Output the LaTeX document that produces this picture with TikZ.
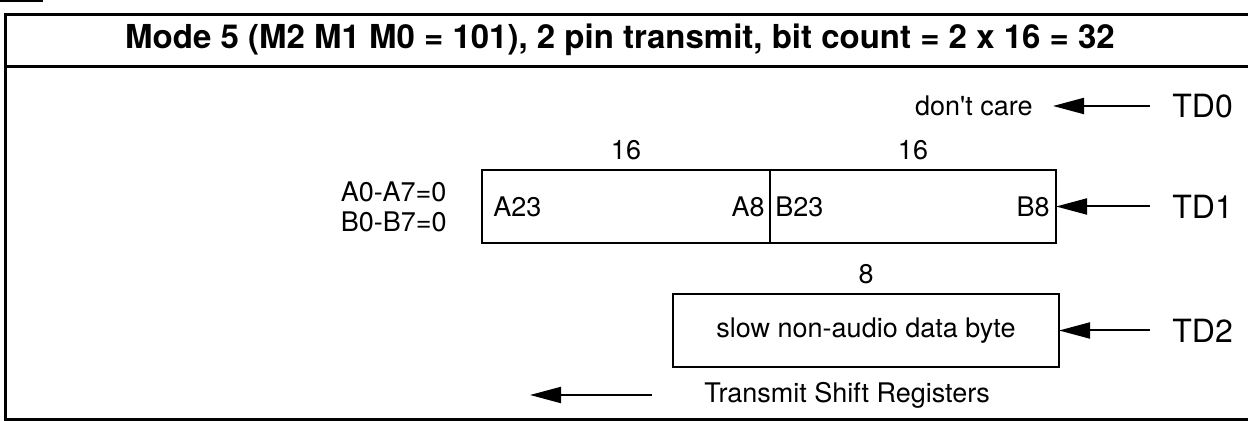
\documentclass[tikz,border=0pt]{standalone}
\usepackage{fontspec}
\setmainfont{TeX Gyre Heros}
\usetikzlibrary{positioning,arrows.meta}

\begin{document}
\begin{tikzpicture}[x=0.5pt,y=-0.5pt,>={Triangle[length=15.5pt,width=8pt]},
      reg/.style={draw,line width=1.2pt,minimum height=36.5pt,inner sep=0pt,outer sep=0pt},
      txt/.style={inner sep=0pt,font=\fontsize{13.5}{15}\selectfont},
      pin/.style={inner sep=0pt,inner xsep=11pt,font=\fontsize{16}{19}\selectfont},
      ar/.style={->,line width=1pt}]
    \useasboundingbox (0,0) rectangle (1248,421);
    \clip (0,0) rectangle (1248,421);
    % frame and title
    \draw[line width=1.5pt] (0,0.8) -- (43,0.8);
    \draw[line width=1.5pt] (1270,14.5) -- (5,14.5) -- (5,419.5) -- (1270,419.5);
    \draw[line width=1.5pt] (5,67) -- (1270,67);
    \node[inner sep=0pt,font=\bfseries\fontsize{16.5}{20}\selectfont] (title) at (620,40)
      {Mode 5 (M2 M1 M0 = 101), 2 pin transmit, bit count = 2 x 16 = 32};
    % shift registers
    \node[reg,minimum width=144pt] (regA) at (626,206.5) {};
    \node[reg,minimum width=143pt,right=0pt of regA] (regB) {};
    \node[reg,minimum width=193pt] (regC) at (866,330.5) {};
    \node[txt,anchor=west] (a23) at ([xshift=5.5pt]regA.west) {A23};
    \node[txt,anchor=east] (a8) at ([xshift=-2.5pt]regA.east) {A8};
    \node[txt,anchor=west] (b23) at ([xshift=2.5pt]regB.west) {B23};
    \node[txt,anchor=east] (b8) at ([xshift=-3pt]regB.east) {B8};
    \node[txt] (slow) at (regC) {slow non-audio data byte};
    \node[txt,above=5pt of regA] (nA) {16};
    \node[txt,above=5pt of regB] (nB) {16};
    \node[txt,above=5pt of regC] (nC) {8};
    \node[txt,align=left,left=17.5pt of regA] (zero) {A0-A7=0\\B0-B7=0};
    % pins
    \node[pin,right=47pt of regB] (td1) {TD1};
    \node[pin,anchor=west] (td2) at (td1.west |- regC) {TD2};
    \node[pin,anchor=west] (td0) at (1150,106) {TD0};
    \node[txt,inner xsep=10pt,anchor=east] (dc) at (1053,106) {don\textquotesingle t care};
    \foreach \x/\y in {td0/dc,td1/regB,td2/regC}
      \draw[ar] (\x) -- (\y);
    % shift direction
    \node[txt,inner xsep=26pt,anchor=west] (tsr) at (652,395) {Transmit Shift Registers};
    \coordinate (tsrtip) at (530,395);
    \draw[ar] (tsr) -- (tsrtip);
\end{tikzpicture}
\end{document}
